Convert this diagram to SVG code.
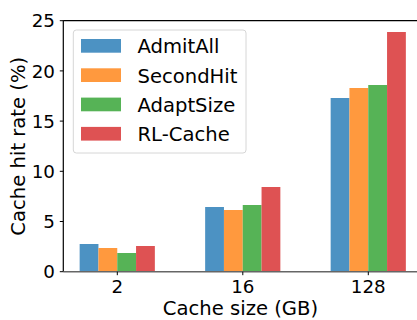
<svg xmlns="http://www.w3.org/2000/svg" width="417" height="320" viewBox="0 0 417 320">
<style>
text{font-family:"DejaVu Sans","Liberation Sans",sans-serif;fill:#000}
.tk{font-size:18.3px}
.lb{font-size:19.6px}
.b{fill:#4c92c3}.o{fill:#ff993e}.g{fill:#56b356}.r{fill:#de5253}
.tick{stroke:#000;stroke-width:1}
</style>
<rect width="417" height="320" fill="#fff"/>
<g id="bars">
<rect class="b" x="79.65" y="244" width="18.8" height="27.7"/>
<rect class="o" x="98.45" y="248" width="18.8" height="23.7"/>
<rect class="g" x="117.25" y="253" width="18.8" height="18.7"/>
<rect class="r" x="136.05" y="246" width="18.8" height="25.7"/>
<rect class="b" x="205.15" y="207" width="18.8" height="64.7"/>
<rect class="o" x="223.95" y="210" width="18.8" height="61.7"/>
<rect class="g" x="242.75" y="205" width="18.8" height="66.7"/>
<rect class="r" x="261.55" y="187" width="18.8" height="84.7"/>
<rect class="b" x="330.65" y="98" width="18.8" height="173.7"/>
<rect class="o" x="349.45" y="88" width="18.8" height="183.7"/>
<rect class="g" x="368.25" y="85" width="18.8" height="186.7"/>
<rect class="r" x="387.05" y="32" width="18.8" height="239.7"/>
</g>
<g id="axes">
<line x1="63.3" y1="20.7" x2="417" y2="20.7" stroke="#000" stroke-width="1.2"/>
<line x1="63.3" y1="20.2" x2="63.3" y2="271.7" stroke="#000" stroke-width="1.2"/>
<line x1="63.3" y1="271.7" x2="417" y2="271.7" stroke="#666" stroke-width="1.6"/>
<g class="tick">
<line x1="59.8" y1="271.7" x2="63.3" y2="271.7"/>
<line x1="59.8" y1="221.5" x2="63.3" y2="221.5"/>
<line x1="59.8" y1="171.3" x2="63.3" y2="171.3"/>
<line x1="59.8" y1="121.1" x2="63.3" y2="121.1"/>
<line x1="59.8" y1="70.9" x2="63.3" y2="70.9"/>
<line x1="59.8" y1="20.7" x2="63.3" y2="20.7"/>
<line x1="117.3" y1="271.7" x2="117.3" y2="275.2"/>
<line x1="242.8" y1="271.7" x2="242.8" y2="275.2"/>
<line x1="368.3" y1="271.7" x2="368.3" y2="275.2"/>
</g>
<g class="tk" text-anchor="end">
<text x="55" y="278.4">0</text>
<text x="55" y="228.2">5</text>
<text x="55" y="178">10</text>
<text x="55" y="127.8">15</text>
<text x="55" y="77.6">20</text>
<text x="55" y="27.4">25</text>
</g>
<g class="tk" text-anchor="middle">
<text x="117.3" y="293.3">2</text>
<text x="242.8" y="293.3">16</text>
<text x="368.3" y="293.3">128</text>
</g>
<text class="lb" x="240.5" y="315" text-anchor="middle">Cache size (GB)</text>
<text class="lb" transform="translate(24.5,146.2) rotate(-90)" text-anchor="middle">Cache hit rate (%)</text>
</g>
<g id="legend">
<rect x="73.3" y="30" width="172.7" height="123" rx="3" fill="#fff" fill-opacity="0.8" stroke="#d6d6d6" stroke-width="1"/>
<rect class="b" x="81" y="39" width="40" height="13.7"/>
<rect class="o" x="81" y="68.3" width="40" height="13.7"/>
<rect class="g" x="81" y="97.6" width="40" height="13.7"/>
<rect class="r" x="81" y="126.9" width="40" height="13.7"/>
<text class="lb" x="137.5" y="53.3">AdmitAll</text>
<text class="lb" x="137.5" y="82.6">SecondHit</text>
<text class="lb" x="137.5" y="111.9">AdaptSize</text>
<text class="lb" x="137.5" y="141.2">RL-Cache</text>
</g>
</svg>
